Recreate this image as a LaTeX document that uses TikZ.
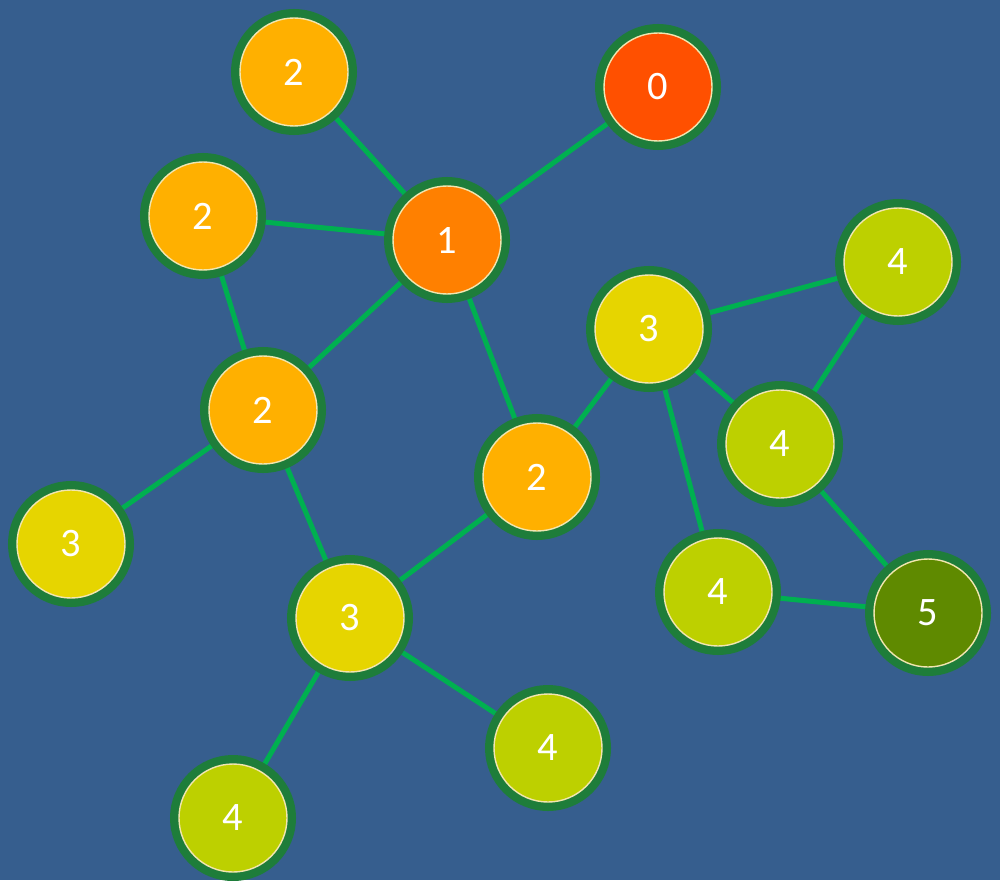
\documentclass[tikz,border=0pt]{standalone}
\usepackage{fontspec}
\setmainfont{Carlito}
\usetikzlibrary{backgrounds}
\definecolor{bgblue}{HTML}{365E8E}
\definecolor{edgegreen}{HTML}{00B050}
\definecolor{ringgreen}{HTML}{1E7D3A}
\definecolor{rimpale}{HTML}{F2E6B0}
\definecolor{dist0}{HTML}{FF5000}
\definecolor{dist1}{HTML}{FF8000}
\definecolor{dist2}{HTML}{FFB000}
\definecolor{dist3}{HTML}{E6D500}
\definecolor{dist4}{HTML}{BDD000}
\definecolor{dist5}{HTML}{5F8A00}

\begin{document}
\begin{tikzpicture}[font=\fontsize{11.5}{13}\selectfont,
    vert/.style={circle, draw=rimpale, line width=0.4pt, minimum size=1.08cm, inner sep=0pt,
      text=white, preaction={draw=ringgreen, line width=0.18cm}},
    link/.style={draw=edgegreen, line width=0.05cm}]
  \useasboundingbox (0,0) rectangle (10,8.8);
  % vertices, labelled with their distance from the source
  \foreach \n/\x/\y/\d in {n0/6.58/7.93/0, n1/4.47/6.40/1,
      n2a/2.94/8.08/2, n2b/2.03/6.64/2, n2c/2.63/4.70/2, n2d/5.37/4.03/2,
      n3a/0.71/3.36/3, n3b/3.50/2.62/3, n3c/6.49/5.51/3,
      n4a/8.98/6.18/4, n4b/7.80/4.36/4, n4c/7.18/2.88/4, n4d/5.48/1.32/4, n4e/2.33/0.62/4,
      n5/9.28/2.67/5} {
    \node[vert, fill=dist\d] (\n) at (\x,\y) {\d};
  }
  \begin{pgfonlayer}{background}
    \fill[bgblue] (0,0) rectangle (10,8.8);
    % edges
    \foreach \a/\b in {n2a/n1, n2b/n1, n0/n1, n2b/n2c, n2c/n1, n1/n2d, n2c/n3a, n2c/n3b,
        n3b/n2d, n2d/n3c, n3c/n4a, n3c/n4b, n4a/n4b, n3c/n4c, n4b/n5, n4c/n5,
        n3b/n4d, n3b/n4e} {
      \draw[link] (\a) -- (\b);
    }
  \end{pgfonlayer}
\end{tikzpicture}
\end{document}
